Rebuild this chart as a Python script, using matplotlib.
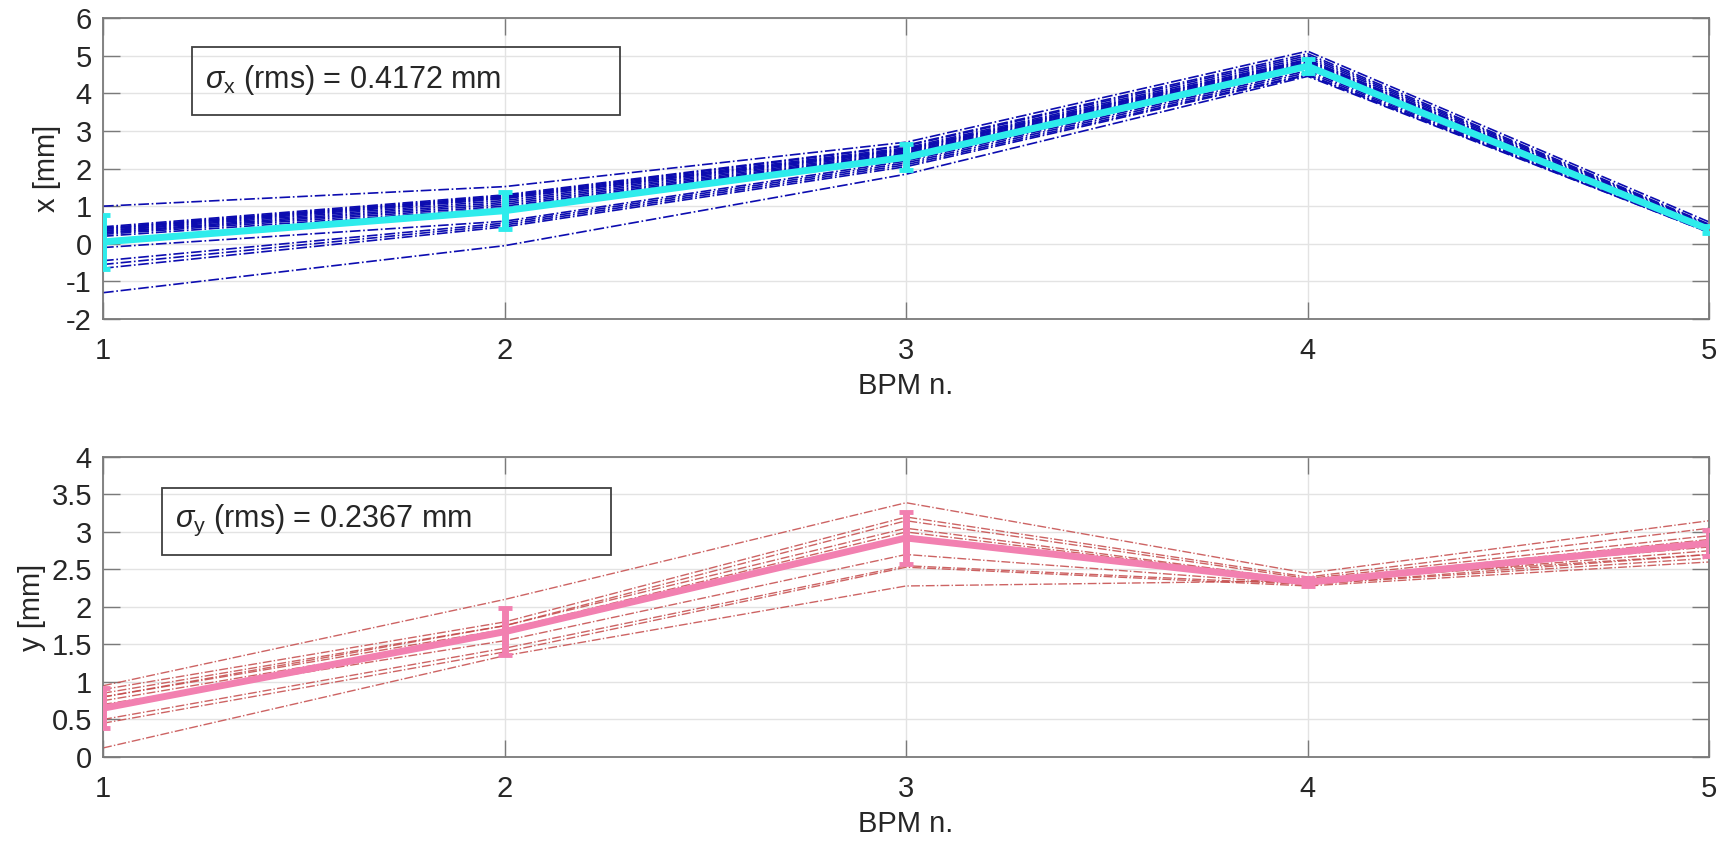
import numpy as np
import matplotlib
matplotlib.use("Agg")
import matplotlib.pyplot as plt
from matplotlib.patches import Rectangle

plt.rcParams['font.family'] = ['Liberation Sans', 'DejaVu Sans']
plt.rcParams['mathtext.fontset'] = 'custom'
plt.rcParams['mathtext.rm'] = 'Liberation Sans'
plt.rcParams['mathtext.it'] = 'Liberation Sans:italic'

bpm = [1, 2, 3, 4, 5]

# horizontal orbit, one row per shot (mm)
x_shots = [
    [1.00, 1.52, 2.70, 5.12, 0.58],
    [0.45, 1.30, 2.62, 5.05, 0.52],
    [0.42, 1.27, 2.60, 5.00, 0.50],
    [0.40, 1.25, 2.55, 4.95, 0.48],
    [0.38, 1.22, 2.52, 4.90, 0.45],
    [0.35, 1.20, 2.50, 4.88, 0.45],
    [0.33, 1.15, 2.48, 4.85, 0.42],
    [0.30, 1.10, 2.45, 4.82, 0.42],
    [0.28, 1.05, 2.42, 4.80, 0.40],
    [0.25, 1.00, 2.40, 4.78, 0.40],
    [0.20, 0.95, 2.38, 4.75, 0.38],
    [-0.10, 0.60, 2.20, 4.60, 0.35],
    [-0.45, 0.55, 2.15, 4.55, 0.33],
    [-0.55, 0.50, 2.10, 4.50, 0.32],
    [-0.65, 0.45, 2.05, 4.48, 0.30],
    [-1.30, -0.05, 1.85, 4.45, 0.30],
]
x_mean = [0.05, 0.88, 2.30, 4.72, 0.38]
x_err = [0.72, 0.50, 0.35, 0.18, 0.10]

# vertical orbit (mm)
y_shots = [
    [0.95, 2.10, 3.39, 2.45, 3.15],
    [0.90, 1.80, 3.20, 2.40, 3.05],
    [0.85, 1.75, 3.15, 2.38, 2.95],
    [0.80, 1.75, 3.05, 2.35, 2.90],
    [0.80, 1.70, 3.00, 2.35, 2.80],
    [0.75, 1.65, 2.95, 2.33, 2.75],
    [0.70, 1.55, 2.70, 2.30, 2.70],
    [0.50, 1.45, 2.55, 2.30, 2.65],
    [0.45, 1.40, 2.53, 2.28, 2.60],
    [0.12, 1.35, 2.28, 2.35, 2.70],
]
y_mean = [0.65, 1.67, 2.92, 2.33, 2.85]
y_err = [0.27, 0.31, 0.35, 0.05, 0.17]

x_rms_text = r'$\sigma_{\mathrm{x}}$ (rms) = 0.4172 mm'
y_rms_text = r'$\sigma_{\mathrm{y}}$ (rms) = 0.2367 mm'

fig = plt.figure(figsize=(17.32, 8.51), dpi=100)
ax1 = fig.add_axes([0.0595, 0.6251, 0.9273, 0.3537])
ax2 = fig.add_axes([0.0595, 0.1105, 0.9273, 0.3525])


def style_axes(ax, ylim, yticks, yticklabels, ylabel):
    ax.set_xlim(1, 5)
    ax.set_ylim(*ylim)
    ax.set_xticks(bpm)
    ax.set_yticks(yticks)
    ax.set_yticklabels(yticklabels)
    ax.grid(True, color='#e3e3e3', lw=1.0)
    ax.set_axisbelow(True)
    for s in ax.spines.values():
        s.set_color('#7a7a7a')
        s.set_linewidth(1.3)
    ax.tick_params(axis='both', direction='in', length=12, width=1.0,
                   colors='#7a7a7a', labelcolor='#262626', labelsize=21,
                   top=True, right=True)
    ax.tick_params(axis='x', pad=13)
    ax.tick_params(axis='y', pad=8)
    ax.set_xlabel('BPM n.', fontsize=21, color='#262626', labelpad=5)
    ax.set_ylabel(ylabel, fontsize=21, color='#262626', labelpad=4)


for row in x_shots:
    ax1.plot(bpm, row, linestyle='-.', color='#0c0cb0', lw=1.2)
ax1.errorbar(bpm, x_mean, yerr=x_err, color='#2eecec', lw=5,
             capsize=5, capthick=3.5, elinewidth=5, zorder=5)
style_axes(ax1, (-2, 6), range(-2, 7), [str(v) for v in range(-2, 7)], 'x [mm]')

for row in y_shots:
    ax2.plot(bpm, row, linestyle='-.', color='#c44848', lw=1.0, alpha=0.85)
ax2.errorbar(bpm, y_mean, yerr=y_err, color='#f280b0', lw=5,
             capsize=5, capthick=3.5, elinewidth=5, zorder=5)
yt = np.arange(0, 4.01, 0.5)
style_axes(ax2, (0, 4), yt, ['0', '0.5', '1', '1.5', '2', '2.5', '3', '3.5', '4'], 'y [mm]')

# annotation boxes
fig.patches.append(Rectangle((0.1109, 0.8649), 0.2471, 0.0799, transform=fig.transFigure,
                             fill=False, edgecolor='#404040', lw=1.3))
fig.text(0.1184, 0.906, x_rms_text, fontsize=22, color='#262626', va='center')
fig.patches.append(Rectangle((0.0935, 0.3478), 0.2592, 0.0787, transform=fig.transFigure,
                             fill=False, edgecolor='#404040', lw=1.3))
fig.text(0.101, 0.388, y_rms_text, fontsize=22, color='#262626', va='center')

fig.savefig('out.png', dpi=100)
